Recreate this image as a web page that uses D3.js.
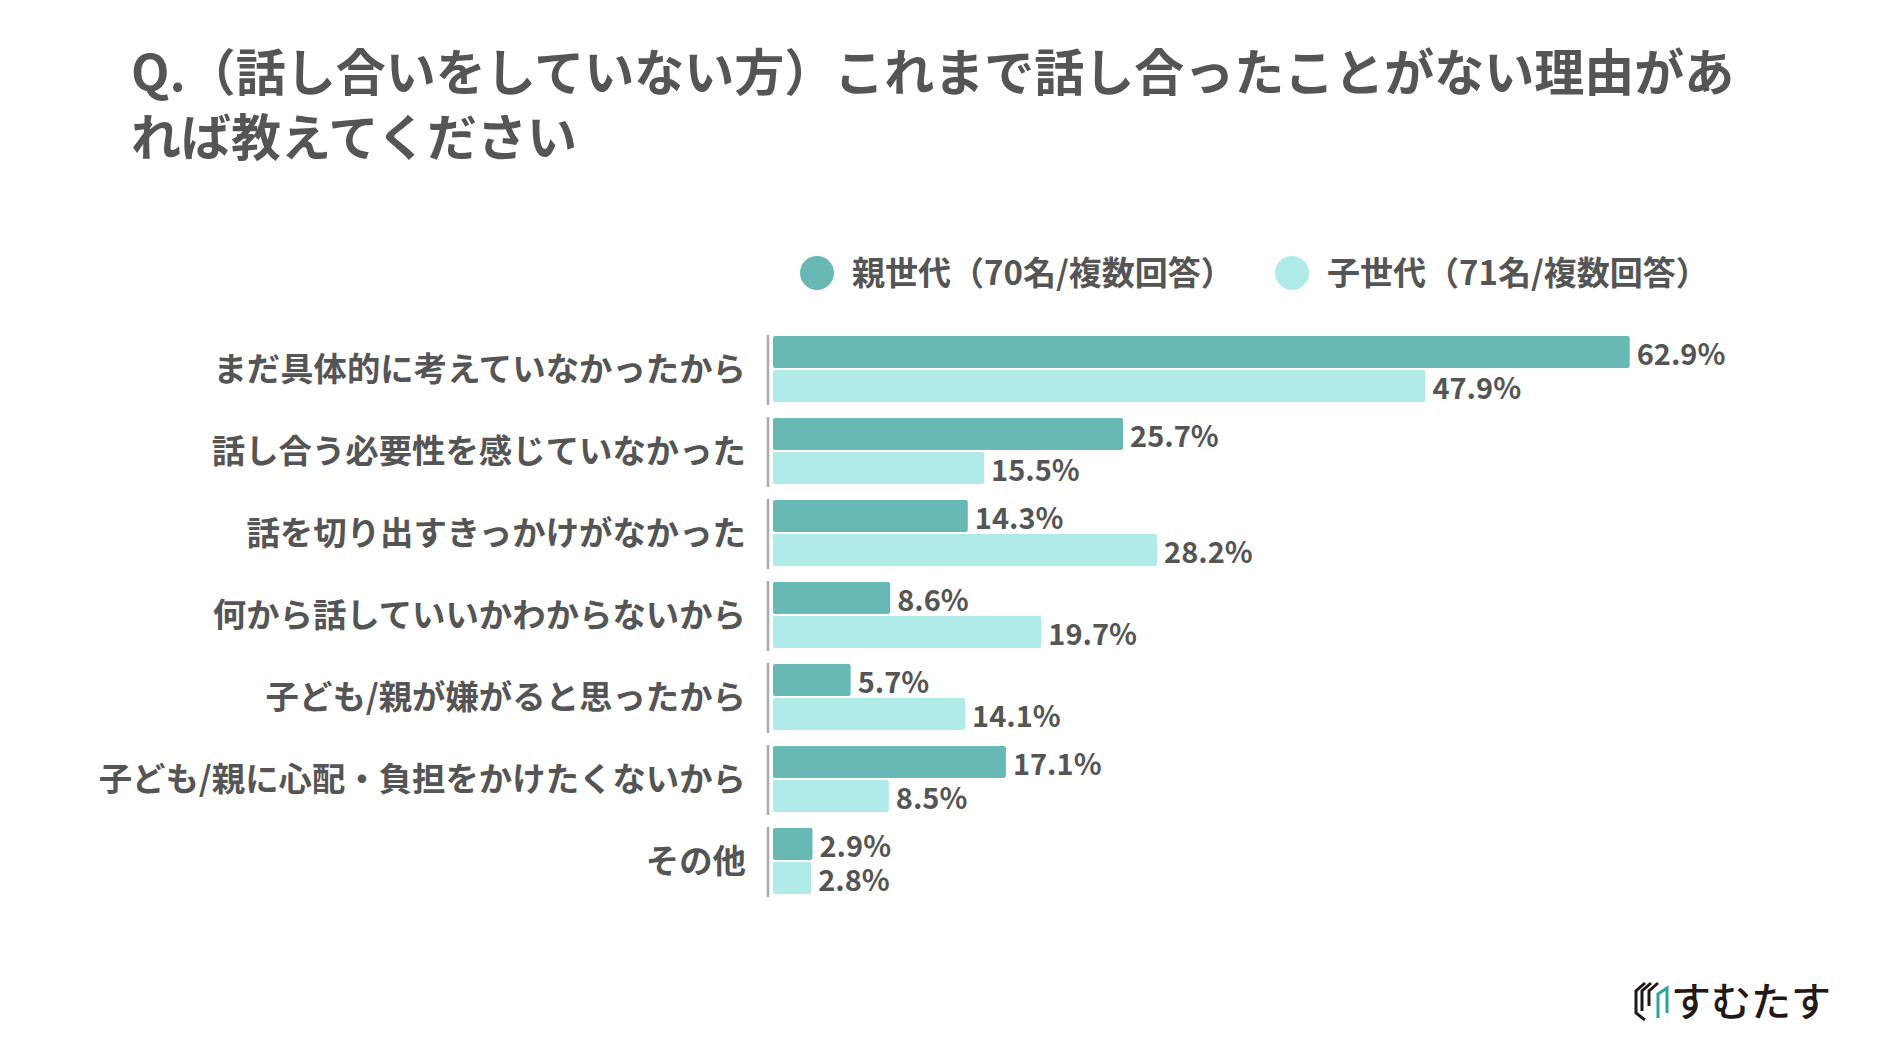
<!DOCTYPE html>
<html>
<head>
<meta charset="utf-8">
<script src="https://cdn.jsdelivr.net/npm/d3@7"></script>
<style>
  html, body { margin: 0; padding: 0; background: #fff; }
  svg { display: block; font-family: "Noto Sans CJK JP", "Noto Sans", sans-serif; }
</style>
</head>
<body>
<svg id="chart" width="1878" height="1058"></svg>
<script>
const titleLines = ["Q.（話し合いをしていない方）これまで話し合ったことがない理由があ", "れば教えてください"];
const categories = [
  "まだ具体的に考えていなかったから",
  "話し合う必要性を感じていなかった",
  "話を切り出すきっかけがなかった",
  "何から話していいかわからないから",
  "子ども/親が嫌がると思ったから",
  "子ども/親に心配・負担をかけたくないから",
  "その他"
];
const seriesNames = ["親世代（70名/複数回答）", "子世代（71名/複数回答）"];
const parentValues = [62.9, 25.7, 14.3, 8.6, 5.7, 17.1, 2.9];
const childValues  = [47.9, 15.5, 28.2, 19.7, 14.1, 8.5, 2.8];
const colors = ["#68b8b6", "#b0ebea"];
const logoText = "すむたす";

const svg = d3.select("#chart");
const textColor = "#555555";

// Title
const title = svg.append("text")
  .attr("x", 131).attr("y", 91)
  .attr("font-size", 50).attr("font-weight", 700).attr("fill", textColor);
titleLines.forEach((t, i) => {
  title.append("tspan").attr("x", 131).attr("y", 91 + i * 65).text(t);
});

// Legend
const legendX = [817, 1292];
seriesNames.forEach((s, i) => {
  svg.append("circle").attr("cx", legendX[i]).attr("cy", 273).attr("r", 17).attr("fill", colors[i]);
  svg.append("text").attr("x", legendX[i] + 35).attr("y", 285)
    .attr("font-size", 33).attr("font-weight", 700).attr("fill", textColor).text(s);
});

// Scales
const x = d3.scaleLinear().domain([0, 100]).range([773, 773 + 1362]);
const y0 = d3.scaleBand().domain(categories).range([334, 334 + 82 * categories.length]).padding(0);
const y1 = d3.scaleBand().domain([0, 1]).range([2, 68]).paddingInner(0.06);

const data = categories.map((c, i) => ({ cat: c, vals: [parentValues[i], childValues[i]] }));

const groups = svg.append("g").selectAll("g").data(data).join("g")
  .attr("transform", d => `translate(0,${y0(d.cat)})`);

// axis segments
groups.append("line")
  .attr("x1", 768).attr("x2", 768).attr("y1", 1).attr("y2", 71)
  .attr("stroke", "#aaaaaa").attr("stroke-width", 2.5);

// category labels
groups.append("text")
  .attr("x", 746).attr("y", 35).attr("dy", "0.37em")
  .attr("text-anchor", "end")
  .attr("font-size", 33.4).attr("font-weight", 700).attr("fill", textColor)
  .text(d => d.cat);

// bars
groups.selectAll("rect").data(d => d.vals.map((v, j) => ({ v, j }))).join("rect")
  .attr("x", x(0))
  .attr("y", d => y1(d.j))
  .attr("width", d => x(d.v) - x(0))
  .attr("height", y1.bandwidth())
  .attr("rx", 2)
  .attr("fill", d => colors[d.j]);

// value labels
groups.selectAll("text.val").data(d => d.vals.map((v, j) => ({ v, j }))).join("text")
  .attr("class", "val")
  .attr("x", d => x(d.v) + 7)
  .attr("y", d => y1(d.j) + y1.bandwidth() / 2)
  .attr("dy", "0.44em")
  .attr("font-size", 29).attr("font-weight", 700).attr("fill", textColor)
  .text(d => d3.format(".1f")(d.v) + "%");

// Logo
const logo = svg.append("g").attr("fill", "none").attr("stroke-width", 3);
logo.append("path").attr("d", "M1645,983 L1636,991 L1636,1013 L1645,1020").attr("stroke", "#231815");
logo.append("path").attr("d", "M1651,983 L1642,991 L1642,1011").attr("stroke", "#231815");
logo.append("path").attr("d", "M1658,983 L1649,991 L1649,1006").attr("stroke", "#231815");
logo.append("path").attr("d", "M1658,1018 L1658,994 L1667,988 L1667,1013").attr("stroke", "#2aa3a0");
logo.append("text").attr("x", 1671).attr("y", 1016).attr("stroke", "none")
  .attr("font-size", 40).attr("font-weight", 500).attr("fill", "#231815").text(logoText);
</script>
</body>
</html>
